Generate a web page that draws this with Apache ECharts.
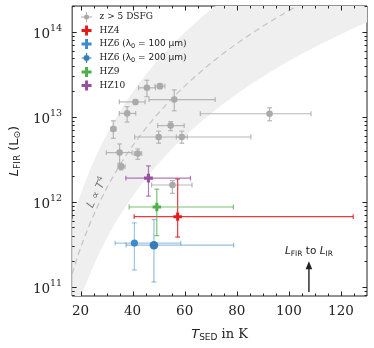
<!DOCTYPE html>
<html>
<head>
<meta charset="utf-8">
<script src="https://cdn.jsdelivr.net/npm/echarts@6/dist/echarts.min.js"></script>
<style>
  html, body { margin: 0; padding: 0; background: #fff; }
  #chart { width: 374px; height: 348px; }
</style>
</head>
<body>
<div id="chart"></div>
<script>
// z > 5 DSFG literature sample: T, T low, T high, L, L low, L high
const dsfgT   = [45.5, 50.5, 41.1, 56.0, 37.9, 32.6, 54.6, 50.0, 58.9, 35.0, 42.0, 35.6, 55.3, 92.6];
const dsfgTlo = [42.3, 48.6, 34.9, 46.3, 34.9, 31.8, 49.6, 40.8, 56.8, 29.9, 40.6, 34.4, 47.3, 66.0];
const dsfgThi = [48.8, 52.4, 44.8, 71.7, 41.2, 33.6, 59.8, 85.4, 61.0, 39.8, 43.5, 37.1, 62.8, 108.5];
const dsfgL   = [2.2e13, 2.3e13, 1.5e13, 1.6e13, 1.1e13, 7.2e12, 7.9e12, 5.8e12, 5.8e12, 3.8e12, 3.7e12, 2.6e12, 1.58e12, 1.09e13];
const dsfgLlo = [1.73e13, 2.15e13, 1.4e13, 1.18e13, 8.7e12, 5.6e12, 6.9e12, 4.9e12, 4.9e12, 2.85e12, 3.17e12, 2.38e12, 1.26e12, 9.0e12];
const dsfgLhi = [2.7e13, 2.45e13, 1.6e13, 2.08e13, 1.32e13, 9.0e12, 8.8e12, 6.8e12, 6.8e12, 4.8e12, 4.2e12, 2.8e12, 1.78e12, 1.28e13];

// HZ galaxies
const hzNames = ['HZ4', 'HZ6 (λ0 = 100 µm)', 'HZ6 (λ0 = 200 µm)', 'HZ9', 'HZ10'];
const hzT   = [57.3, 40.7, 48.2, 49.3, 46.1];
const hzTlo = [40.6, 33.3, 37.5, 38.7, 37.4];
const hzThi = [124.7, 58.5, 78.8, 78.7, 62.2];
const hzL   = [6.7e11, 3.27e11, 3.09e11, 8.7e11, 1.9e12];
const hzLlo = [3.85e11, 1.58e11, 1.14e11, 4.0e11, 1.17e12];
const hzLhi = [1.86e12, 5.66e11, 6.2e11, 1.41e12, 2.65e12];

// L ∝ T^4 band: log10 L at T = 1 K for lower edge, centre, upper edge
const bandExp = 4;
const bandLogNorm = [5.657, 6.25, 6.88];

// tick labels
const xMajor = [20, 40, 60, 80, 100, 120];
const yMajor = [1e11, 1e12, 1e13, 1e14];

// annotation: L_FIR to L_IR arrow
const arrowT = 107.7;
const arrowL = [8.7e10, 2.0e11];
const arrowTextL = 2.6e11;
const slopeTextAt = [26.4, 1.28e12];

const tMin = 16.8, tMax = 130, lMin = 7.8e10, lMax = 2.02e14;

const hzStyle = [
  { color: '#e41a1c', bar: 'rgba(228,26,28,0.85)', marker: 'plus', size: 4.2 },
  { color: '#3d8bcd', bar: 'rgba(61,139,205,0.5)', marker: 'circle', size: 3.6 },
  { color: '#377eb8', bar: 'rgba(55,126,184,0.5)', marker: 'circle', size: 4.3 },
  { color: '#4daf4a', bar: 'rgba(77,175,74,0.75)', marker: 'plus', size: 4.2 },
  { color: '#984ea3', bar: 'rgba(152,78,163,0.75)', marker: 'plus', size: 4.4 }
];

const plusPath = 'path://M7 0H13V7H20V13H13V20H7V13H0V7H7Z';
const dotCrossPath = 'path://M0 9.2H20V10.8H0Z M9.2 1H10.8V19H9.2Z M5.5 10A4.5 4.5 0 1 1 14.5 10A4.5 4.5 0 1 1 5.5 10Z';
const blobPath = 'path://M0 8.8H20V11.2H0Z M8.8 0H11.2V20H8.8Z M4 10A6 6 0 1 1 16 10A6 6 0 1 1 4 10Z';

function errorRenderer(style) {
  return function (params, api) {
    const c = api.coord([api.value(0), api.value(3)]);
    const xl = api.coord([api.value(1), api.value(3)])[0];
    const xr = api.coord([api.value(2), api.value(3)])[0];
    const yb = api.coord([api.value(0), api.value(4)])[1];
    const yt = api.coord([api.value(0), api.value(5)])[1];
    const cap = 2.4;
    const ls = { stroke: style.bar, lineWidth: 1.2 };
    const kids = [
      { type: 'line', shape: { x1: xl, y1: c[1], x2: xr, y2: c[1] }, style: ls },
      { type: 'line', shape: { x1: c[0], y1: yt, x2: c[0], y2: yb }, style: ls },
      { type: 'line', shape: { x1: xl, y1: c[1] - cap, x2: xl, y2: c[1] + cap }, style: ls },
      { type: 'line', shape: { x1: xr, y1: c[1] - cap, x2: xr, y2: c[1] + cap }, style: ls },
      { type: 'line', shape: { x1: c[0] - cap, y1: yt, x2: c[0] + cap, y2: yt }, style: ls },
      { type: 'line', shape: { x1: c[0] - cap, y1: yb, x2: c[0] + cap, y2: yb }, style: ls }
    ];
    const s = style.size;
    if (style.marker === 'plus') {
      const t = s * 0.36;
      kids.push({
        type: 'polygon',
        shape: { points: [
          [c[0] - t, c[1] - s], [c[0] + t, c[1] - s], [c[0] + t, c[1] - t], [c[0] + s, c[1] - t],
          [c[0] + s, c[1] + t], [c[0] + t, c[1] + t], [c[0] + t, c[1] + s], [c[0] - t, c[1] + s],
          [c[0] - t, c[1] + t], [c[0] - s, c[1] + t], [c[0] - s, c[1] - t], [c[0] - t, c[1] - t]
        ] },
        style: { fill: style.color }
      });
    } else {
      kids.push({ type: 'circle', shape: { cx: c[0], cy: c[1], r: s }, style: { fill: style.color } });
    }
    return { type: 'group', children: kids };
  };
}

function renderBand(params, api) {
  const cs = params.coordSys;
  const top = cs.y, bot = cs.y + cs.height;
  const curve = a => {
    const pts = [];
    for (let t = tMin; t <= tMax + 1e-9; t += 0.4) {
      pts.push(api.coord([t, Math.pow(10, a + bandExp * Math.log10(t))]));
    }
    return pts;
  };
  const clamp = p => [p[0], Math.min(bot, Math.max(top, p[1]))];
  const lo = curve(bandLogNorm[0]).map(clamp);
  const hi = curve(bandLogNorm[2]).map(clamp);
  const mid = curve(bandLogNorm[1]).filter(p => p[1] >= top && p[1] <= bot);
  const tp = api.coord(slopeTextAt);
  return {
    type: 'group',
    children: [
      { type: 'polygon', shape: { points: hi.concat(lo.reverse()) }, style: { fill: '#efefef' } },
      { type: 'polyline', shape: { points: mid }, style: { stroke: '#c4c4c4', lineWidth: 1.2, lineDash: [6, 4], fill: null } },
      {
        type: 'text', x: tp[0], y: tp[1], rotation: 64 * Math.PI / 180,
        style: {
          text: '{i|L} ∝ {i|T}{s|4}', fill: '#777', align: 'center', verticalAlign: 'middle',
          fontFamily: 'DejaVu Sans', fontSize: 11,
          rich: {
            i: { fontStyle: 'italic', fontFamily: 'DejaVu Sans', fontSize: 11, fill: '#777' },
            s: { fontFamily: 'DejaVu Sans', fontSize: 7.5, fill: '#777', padding: [0, 0, 7, 0] }
          }
        }
      }
    ]
  };
}

function renderTicks(params, api) {
  const cs = params.coordSys;
  const l = cs.x, r = cs.x + cs.width, t = cs.y, b = cs.y + cs.height;
  const kids = [];
  const st = { stroke: '#222', lineWidth: 1 };
  const xTick = (v, len) => {
    const x = Math.round(api.coord([v, lMin])[0]) + 0.5;
    kids.push({ type: 'line', shape: { x1: x, y1: b, x2: x, y2: b - len }, style: st });
    kids.push({ type: 'line', shape: { x1: x, y1: t, x2: x, y2: t + len }, style: st });
  };
  const yTick = (v, len) => {
    const y = Math.round(api.coord([tMin, v])[1]) + 0.5;
    kids.push({ type: 'line', shape: { x1: l, y1: y, x2: l + len, y2: y }, style: st });
    kids.push({ type: 'line', shape: { x1: r, y1: y, x2: r - len, y2: y }, style: st });
  };
  xMajor.forEach(v => xTick(v, 4.5));
  for (let v = 5 * Math.ceil(tMin / 5); v < tMax; v += 5) {
    if (v % 20 !== 0) xTick(v, 2.5);
  }
  yMajor.forEach(v => yTick(v, 4.5));
  for (let e = 10; e <= 14; e++) {
    for (let k = 2; k <= 9; k++) {
      const v = k * Math.pow(10, e);
      if (v > lMin && v < lMax) yTick(v, 2.5);
    }
  }
  return { type: 'group', children: kids };
}

function renderArrow(params, api) {
  const p0 = api.coord([arrowT, arrowL[0]]);
  const p1 = api.coord([arrowT, arrowL[1]]);
  const pt = api.coord([arrowT, arrowTextL]);
  const head = 7;
  return {
    type: 'group',
    children: [
      { type: 'line', shape: { x1: p0[0], y1: p0[1], x2: p1[0], y2: p1[1] + head }, style: { stroke: '#222', lineWidth: 1.4 } },
      { type: 'polygon', shape: { points: [[p1[0], p1[1]], [p1[0] - 3.3, p1[1] + head + 1], [p1[0] + 3.3, p1[1] + head + 1]] }, style: { fill: '#222' } },
      {
        type: 'text', x: pt[0], y: pt[1],
        style: {
          text: '{i|L}{s|FIR}{r| to }{i|L}{s|IR}', align: 'center', verticalAlign: 'middle', fill: '#222',
          rich: {
            i: { fontStyle: 'italic', fontFamily: 'DejaVu Sans', fontSize: 10.5, fill: '#222' },
            s: { fontFamily: 'DejaVu Sans', fontSize: 7.5, fill: '#222', padding: [5, 0, 0, 0] },
            r: { fontFamily: 'DejaVu Sans', fontSize: 10.5, fill: '#222' }
          }
        }
      }
    ]
  };
}

const rowsOf = (T, Tlo, Thi, L, Llo, Lhi, idx) => idx.map(i => [T[i], Tlo[i], Thi[i], L[i], Llo[i], Lhi[i]]);

const series = [
  { type: 'custom', name: 'band', renderItem: renderBand, data: [[tMin, lMin]], encode: { x: 0, y: 1 }, silent: true, z: 1 },
  {
    type: 'custom', name: 'z > 5 DSFG', z: 2,
    itemStyle: { color: '#a8a8a8' },
    renderItem: errorRenderer({ color: '#aaaaaa', bar: 'rgba(175,175,175,0.9)', marker: 'circle', size: 3.3 }),
    encode: { x: 0, y: 3 },
    data: rowsOf(dsfgT, dsfgTlo, dsfgThi, dsfgL, dsfgLlo, dsfgLhi, dsfgT.map((_, i) => i))
  }
];
hzNames.forEach((name, i) => {
  series.push({
    type: 'custom', name: name, z: 3,
    itemStyle: { color: hzStyle[i].color },
    renderItem: errorRenderer(hzStyle[i]),
    encode: { x: 0, y: 3 },
    data: rowsOf(hzT, hzTlo, hzThi, hzL, hzLlo, hzLhi, [i])
  });
});
series.push({ type: 'custom', name: 'arrow', renderItem: renderArrow, data: [[tMin, lMin]], encode: { x: 0, y: 1 }, silent: true, z: 4 });
series.push({ type: 'custom', name: 'ticks', renderItem: renderTicks, data: [[tMin, lMin]], encode: { x: 0, y: 1 }, silent: true, z: 5 });

const legendRich = {
  'HZ6 (λ0 = 100 µm)': 'HZ6 ({g|λ}{b|0}{g| = 100 µm})',
  'HZ6 (λ0 = 200 µm)': 'HZ6 ({g|λ}{b|0}{g| = 200 µm})'
};
const legendIcons = [dotCrossPath, plusPath, plusPath, blobPath, plusPath, plusPath];

const chart = echarts.init(document.getElementById('chart'), null, { renderer: 'canvas' });
chart.setOption({
  animation: false,
  backgroundColor: '#fff',
  grid: { left: 70, right: 7, top: 6, bottom: 52, show: true, borderColor: '#222', borderWidth: 1, backgroundColor: 'transparent' },
  legend: {
    orient: 'vertical', left: 81, top: 12, padding: 0,
    itemWidth: 16, itemHeight: 10, itemGap: 3.5,
    data: ['z > 5 DSFG'].concat(hzNames).map((n, i) => ({ name: n, icon: legendIcons[i] })),
    formatter: n => legendRich[n] || n,
    textStyle: {
      fontFamily: 'DejaVu Serif', fontSize: 9, color: '#222',
      rich: {
        g: { fontFamily: 'DejaVu Sans', fontSize: 9, color: '#222' },
        b: { fontFamily: 'DejaVu Sans', fontSize: 6.5, color: '#222', padding: [4, 0, 0, 0] }
      }
    }
  },
  xAxis: {
    type: 'value', min: tMin, max: tMax,
    axisLine: { show: false }, axisTick: { show: false }, splitLine: { show: false },
    axisLabel: { showMinLabel: false, showMaxLabel: false, margin: 8, fontFamily: 'DejaVu Serif', fontSize: 13.5, color: '#222' },
    name: '{i|T}{s|SED}{r| in K}', nameLocation: 'middle', nameGap: 31,
    nameTextStyle: {
      rich: {
        i: { fontStyle: 'italic', fontFamily: 'DejaVu Sans', fontSize: 13, color: '#222' },
        s: { fontFamily: 'DejaVu Sans', fontSize: 9, color: '#222', padding: [6, 0, 0, 0] },
        r: { fontFamily: 'DejaVu Serif', fontSize: 13, color: '#222' }
      }
    }
  },
  yAxis: {
    type: 'log', logBase: 10, min: lMin, max: lMax,
    axisLine: { show: false }, axisTick: { show: false }, splitLine: { show: false },
    axisLabel: {
      showMinLabel: false, showMaxLabel: false, margin: 10,
      formatter: v => '{b|10}{e|' + Math.round(Math.log10(v)) + '}',
      rich: {
        b: { fontFamily: 'DejaVu Serif', fontSize: 13.5, color: '#222', padding: [6, 0, 0, 0] },
        e: { fontFamily: 'DejaVu Serif', fontSize: 9.5, color: '#222', padding: [0, 0, 6, 0] }
      }
    },
    name: '{i|L}{s|FIR}{r| (L}{s|⊙}{r|)}', nameLocation: 'middle', nameGap: 48,
    nameTextStyle: {
      rich: {
        i: { fontStyle: 'italic', fontFamily: 'DejaVu Sans', fontSize: 13, color: '#222' },
        s: { fontFamily: 'DejaVu Sans', fontSize: 9, color: '#222', padding: [6, 0, 0, 0] },
        r: { fontFamily: 'DejaVu Sans', fontSize: 13, color: '#222' }
      }
    }
  },
  series: series
});
</script>
</body>
</html>
